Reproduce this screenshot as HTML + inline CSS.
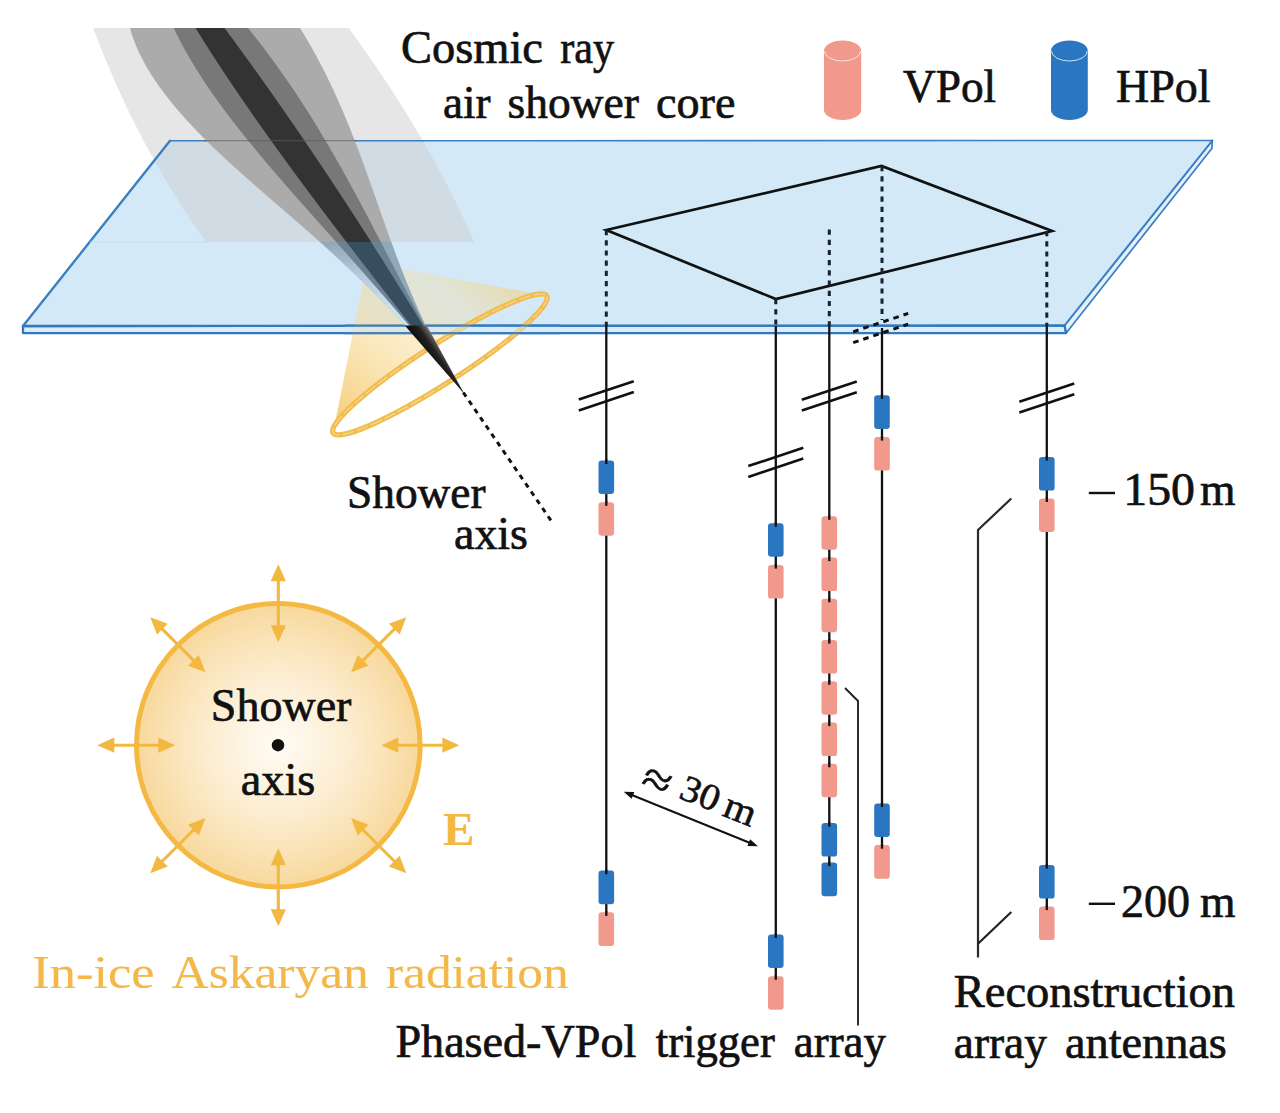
<!DOCTYPE html>
<html><head><meta charset="utf-8"><title>Diagram</title>
<style>
html,body{margin:0;padding:0;background:#fff;}
svg{display:block;}
text{font-family:"Liberation Serif",serif;}
</style></head><body>
<svg width="1280" height="1113" viewBox="0 0 1280 1113">
<defs>
<clipPath id="second"><path d="M130.0,28.0 L131.1,32.0 L132.4,36.0 L133.8,40.0 L135.4,44.0 L137.0,48.0 L138.8,52.0 L140.7,56.0 L142.8,60.0 L144.9,64.0 L147.2,68.0 L149.6,72.0 L152.1,76.0 L154.8,80.0 L157.5,84.0 L160.3,88.0 L163.3,92.0 L166.3,96.0 L169.5,100.0 L172.7,104.0 L176.0,108.0 L179.4,112.0 L183.0,116.0 L186.5,120.0 L190.2,124.0 L194.0,128.0 L197.8,132.0 L201.7,136.0 L205.7,140.0 L209.8,144.0 L213.9,148.0 L218.1,152.0 L222.4,156.0 L226.7,160.0 L231.0,164.0 L235.4,168.0 L239.9,172.0 L244.3,176.0 L248.9,180.0 L253.4,184.0 L258.0,188.0 L262.6,192.0 L267.2,196.0 L271.8,200.0 L276.4,204.0 L281.1,208.0 L285.7,212.0 L290.3,216.0 L294.9,220.0 L299.5,224.0 L304.1,228.0 L308.7,232.0 L313.2,236.0 L317.7,240.0 L322.2,244.0 L326.6,248.0 L331.0,252.0 L335.4,256.0 L339.7,260.0 L344.0,264.0 L348.3,268.0 L352.5,272.0 L356.7,276.0 L360.8,280.0 L365.0,284.0 L369.0,288.0 L373.1,292.0 L377.1,296.0 L381.1,300.0 L385.0,304.0 L388.9,308.0 L392.8,312.0 L396.6,316.0 L400.4,320.0 L404.2,324.0 L407.9,328.0 L411.6,332.0 L415.2,336.0 L418.9,340.0 L422.4,344.0 L426.0,348.0 L429.5,352.0 L433.0,356.0 L436.5,360.0 L439.9,364.0 L443.3,368.0 L446.6,372.0 L449.9,376.0 L453.2,380.0 L456.4,384.0 L459.7,388.0 L462.8,392.0 L463.8,393.2 L463.0,392.0 L460.4,388.0 L457.9,384.0 L455.4,380.0 L452.9,376.0 L450.5,372.0 L448.1,368.0 L445.8,364.0 L443.5,360.0 L441.3,356.0 L439.1,352.0 L437.0,348.0 L434.9,344.0 L432.8,340.0 L430.8,336.0 L428.8,332.0 L426.8,328.0 L424.9,324.0 L423.0,320.0 L421.2,316.0 L419.3,312.0 L417.5,308.0 L415.8,304.0 L414.0,300.0 L412.3,296.0 L410.6,292.0 L409.0,288.0 L407.3,284.0 L405.7,280.0 L404.1,276.0 L402.6,272.0 L401.0,268.0 L399.5,264.0 L397.9,260.0 L396.4,256.0 L394.9,252.0 L393.5,248.0 L392.0,244.0 L390.5,240.0 L389.1,236.0 L387.7,232.0 L386.2,228.0 L384.8,224.0 L383.4,220.0 L382.0,216.0 L380.6,212.0 L379.2,208.0 L377.8,204.0 L376.4,200.0 L375.0,196.0 L373.5,192.0 L372.1,188.0 L370.7,184.0 L369.3,180.0 L367.9,176.0 L366.4,172.0 L365.0,168.0 L363.5,164.0 L362.1,160.0 L360.6,156.0 L359.1,152.0 L357.6,148.0 L356.0,144.0 L354.5,140.0 L352.9,136.0 L351.4,132.0 L349.8,128.0 L348.2,124.0 L346.5,120.0 L344.8,116.0 L343.2,112.0 L341.4,108.0 L339.7,104.0 L337.9,100.0 L336.1,96.0 L334.3,92.0 L332.4,88.0 L330.5,84.0 L328.6,80.0 L326.7,76.0 L324.7,72.0 L322.6,68.0 L320.5,64.0 L318.4,60.0 L316.3,56.0 L314.1,52.0 L311.9,48.0 L309.6,44.0 L307.2,40.0 L304.9,36.0 L302.5,32.0 L300.0,28.0 Z"/></clipPath>
<radialGradient id="ask" cx="50%" cy="50%" r="50%">
<stop offset="0" stop-color="#fffcf6"/><stop offset="0.5" stop-color="#fcedd0"/><stop offset="0.85" stop-color="#f9dfad"/><stop offset="1" stop-color="#f8d89c"/>
</radialGradient>
<mask id="m2only" maskUnits="userSpaceOnUse" x="0" y="0" width="1280" height="1113"><path d="M130.0,28.0 L131.1,32.0 L132.4,36.0 L133.8,40.0 L135.4,44.0 L137.0,48.0 L138.8,52.0 L140.7,56.0 L142.8,60.0 L144.9,64.0 L147.2,68.0 L149.6,72.0 L152.1,76.0 L154.8,80.0 L157.5,84.0 L160.3,88.0 L163.3,92.0 L166.3,96.0 L169.5,100.0 L172.7,104.0 L176.0,108.0 L179.4,112.0 L183.0,116.0 L186.5,120.0 L190.2,124.0 L194.0,128.0 L197.8,132.0 L201.7,136.0 L205.7,140.0 L209.8,144.0 L213.9,148.0 L218.1,152.0 L222.4,156.0 L226.7,160.0 L231.0,164.0 L235.4,168.0 L239.9,172.0 L244.3,176.0 L248.9,180.0 L253.4,184.0 L258.0,188.0 L262.6,192.0 L267.2,196.0 L271.8,200.0 L276.4,204.0 L281.1,208.0 L285.7,212.0 L290.3,216.0 L294.9,220.0 L299.5,224.0 L304.1,228.0 L308.7,232.0 L313.2,236.0 L317.7,240.0 L322.2,244.0 L326.6,248.0 L331.0,252.0 L335.4,256.0 L339.7,260.0 L344.0,264.0 L348.3,268.0 L352.5,272.0 L356.7,276.0 L360.8,280.0 L365.0,284.0 L369.0,288.0 L373.1,292.0 L377.1,296.0 L381.1,300.0 L385.0,304.0 L388.9,308.0 L392.8,312.0 L396.6,316.0 L400.4,320.0 L404.2,324.0 L407.9,328.0 L411.6,332.0 L415.2,336.0 L418.9,340.0 L422.4,344.0 L426.0,348.0 L429.5,352.0 L433.0,356.0 L436.5,360.0 L439.9,364.0 L443.3,368.0 L446.6,372.0 L449.9,376.0 L453.2,380.0 L456.4,384.0 L459.7,388.0 L462.8,392.0 L463.8,393.2 L463.0,392.0 L460.4,388.0 L457.9,384.0 L455.4,380.0 L452.9,376.0 L450.5,372.0 L448.1,368.0 L445.8,364.0 L443.5,360.0 L441.3,356.0 L439.1,352.0 L437.0,348.0 L434.9,344.0 L432.8,340.0 L430.8,336.0 L428.8,332.0 L426.8,328.0 L424.9,324.0 L423.0,320.0 L421.2,316.0 L419.3,312.0 L417.5,308.0 L415.8,304.0 L414.0,300.0 L412.3,296.0 L410.6,292.0 L409.0,288.0 L407.3,284.0 L405.7,280.0 L404.1,276.0 L402.6,272.0 L401.0,268.0 L399.5,264.0 L397.9,260.0 L396.4,256.0 L394.9,252.0 L393.5,248.0 L392.0,244.0 L390.5,240.0 L389.1,236.0 L387.7,232.0 L386.2,228.0 L384.8,224.0 L383.4,220.0 L382.0,216.0 L380.6,212.0 L379.2,208.0 L377.8,204.0 L376.4,200.0 L375.0,196.0 L373.5,192.0 L372.1,188.0 L370.7,184.0 L369.3,180.0 L367.9,176.0 L366.4,172.0 L365.0,168.0 L363.5,164.0 L362.1,160.0 L360.6,156.0 L359.1,152.0 L357.6,148.0 L356.0,144.0 L354.5,140.0 L352.9,136.0 L351.4,132.0 L349.8,128.0 L348.2,124.0 L346.5,120.0 L344.8,116.0 L343.2,112.0 L341.4,108.0 L339.7,104.0 L337.9,100.0 L336.1,96.0 L334.3,92.0 L332.4,88.0 L330.5,84.0 L328.6,80.0 L326.7,76.0 L324.7,72.0 L322.6,68.0 L320.5,64.0 L318.4,60.0 L316.3,56.0 L314.1,52.0 L311.9,48.0 L309.6,44.0 L307.2,40.0 L304.9,36.0 L302.5,32.0 L300.0,28.0 Z" fill="#fff"/><path d="M173.7,28.0 L175.6,32.0 L177.6,36.0 L179.6,40.0 L181.7,44.0 L183.9,48.0 L186.1,52.0 L188.4,56.0 L190.7,60.0 L193.1,64.0 L195.6,68.0 L198.1,72.0 L200.6,76.0 L203.2,80.0 L205.9,84.0 L208.6,88.0 L211.3,92.0 L214.1,96.0 L217.0,100.0 L219.9,104.0 L222.8,108.0 L225.8,112.0 L228.8,116.0 L231.8,120.0 L234.9,124.0 L238.1,128.0 L241.2,132.0 L244.4,136.0 L247.6,140.0 L250.9,144.0 L254.2,148.0 L257.5,152.0 L260.8,156.0 L264.1,160.0 L267.5,164.0 L270.9,168.0 L274.4,172.0 L277.8,176.0 L281.3,180.0 L284.7,184.0 L288.2,188.0 L291.7,192.0 L295.2,196.0 L298.8,200.0 L302.3,204.0 L305.9,208.0 L309.4,212.0 L313.0,216.0 L316.5,220.0 L320.1,224.0 L323.7,228.0 L327.2,232.0 L330.8,236.0 L334.4,240.0 L337.9,244.0 L341.5,248.0 L345.1,252.0 L348.6,256.0 L352.1,260.0 L355.7,264.0 L359.2,268.0 L362.7,272.0 L366.2,276.0 L369.7,280.0 L373.2,284.0 L376.7,288.0 L380.2,292.0 L383.7,296.0 L387.1,300.0 L390.6,304.0 L394.0,308.0 L397.5,312.0 L400.9,316.0 L404.3,320.0 L407.7,324.0 L411.0,328.0 L414.4,332.0 L417.7,336.0 L421.1,340.0 L424.4,344.0 L427.7,348.0 L431.0,352.0 L434.2,356.0 L437.5,360.0 L440.7,364.0 L443.9,368.0 L447.1,372.0 L450.3,376.0 L453.5,380.0 L456.6,384.0 L459.8,388.0 L462.9,392.0 L463.8,393.2 L463.1,392.0 L460.6,388.0 L458.2,384.0 L455.7,380.0 L453.3,376.0 L451.0,372.0 L448.6,368.0 L446.3,364.0 L443.9,360.0 L441.6,356.0 L439.4,352.0 L437.1,348.0 L434.9,344.0 L432.6,340.0 L430.4,336.0 L428.2,332.0 L426.0,328.0 L423.8,324.0 L421.7,320.0 L419.5,316.0 L417.4,312.0 L415.2,308.0 L413.1,304.0 L411.0,300.0 L408.9,296.0 L406.8,292.0 L404.7,288.0 L402.6,284.0 L400.5,280.0 L398.4,276.0 L396.4,272.0 L394.3,268.0 L392.2,264.0 L390.1,260.0 L388.1,256.0 L386.0,252.0 L383.9,248.0 L381.9,244.0 L379.8,240.0 L377.7,236.0 L375.6,232.0 L373.5,228.0 L371.5,224.0 L369.4,220.0 L367.3,216.0 L365.1,212.0 L363.0,208.0 L360.9,204.0 L358.8,200.0 L356.6,196.0 L354.5,192.0 L352.3,188.0 L350.1,184.0 L347.9,180.0 L345.7,176.0 L343.5,172.0 L341.3,168.0 L339.0,164.0 L336.7,160.0 L334.5,156.0 L332.1,152.0 L329.8,148.0 L327.5,144.0 L325.1,140.0 L322.7,136.0 L320.3,132.0 L317.9,128.0 L315.5,124.0 L313.0,120.0 L310.5,116.0 L308.0,112.0 L305.4,108.0 L302.9,104.0 L300.3,100.0 L297.6,96.0 L295.0,92.0 L292.3,88.0 L289.6,84.0 L286.8,80.0 L284.0,76.0 L281.2,72.0 L278.4,68.0 L275.5,64.0 L272.6,60.0 L269.7,56.0 L266.7,52.0 L263.7,48.0 L260.6,44.0 L257.5,40.0 L254.4,36.0 L251.2,32.0 L248.0,28.0 Z" fill="#000"/></mask>
<linearGradient id="fade" gradientUnits="userSpaceOnUse" x1="0" y1="242" x2="0" y2="312">
<stop offset="0" stop-color="#d4e9f8" stop-opacity="0"/><stop offset="0.5" stop-color="#d4e9f8" stop-opacity="0.55"/><stop offset="1" stop-color="#d4e9f8" stop-opacity="0.9"/>
</linearGradient>
<linearGradient id="tipg" gradientUnits="userSpaceOnUse" x1="421" y1="347" x2="436" y2="336.5">
<stop offset="0" stop-color="#0e0e0e"/><stop offset="0.5" stop-color="#222"/><stop offset="0.8" stop-color="#5a5a5a"/><stop offset="1" stop-color="#a0a0a0"/>
</linearGradient>
<linearGradient id="cone" gradientUnits="userSpaceOnUse" x1="331" y1="433" x2="480" y2="250">
<stop offset="0" stop-color="#f5c767" stop-opacity="0.95"/><stop offset="0.45" stop-color="#f8d993" stop-opacity="0.55"/><stop offset="0.75" stop-color="#f6dca0" stop-opacity="0.35"/><stop offset="1" stop-color="#f0cf7a" stop-opacity="0.6"/>
</linearGradient>
</defs>
<rect width="1280" height="1113" fill="#fff"/>
<!-- ice -->
<polygon points="1212.3,140.5 1212,148.2 1066,333.2 1064.5,325.5" fill="#e4f0fa" stroke="#3a7fc1" stroke-width="1.7" stroke-linejoin="round"/>
<polygon points="23,326 1064.5,325.5 1066,333.2 23,333.2" fill="#dcedfa" stroke="#3278bc" stroke-width="2.3" stroke-linejoin="round"/>
<polygon points="170,140.8 1212.3,140.5 1064.5,325.5 23,326" fill="#d4e9f8"/>
<path d="M93,28 Q137.9,147.5 206.25,242 L474,242 Q430.6,140.0 348.75,28 Z" fill="#cdcdcd" fill-opacity="0.5"/>
<polyline points="23,326 170,140.8" fill="none" stroke="#3a7fc1" stroke-width="2.4" stroke-linecap="round"/>
<polyline points="170,140.8 1212.3,140.5" fill="none" stroke="#3a7fc1" stroke-width="1.6" stroke-linecap="round"/>
<polyline points="1212.3,140.5 1064.5,325.5" fill="none" stroke="#3a7fc1" stroke-width="2" stroke-linecap="round"/>
<polyline points="1064.5,325.5 23,326" fill="none" stroke="#3278bc" stroke-width="2.4" stroke-linecap="round"/>
<line x1="90" y1="242" x2="208" y2="242" stroke="#c6dcee" stroke-width="1"/>
<!-- cone -->
<g>
<path d="M367,262 L546.7,295.8 A126.9,19.5 -32.7 0 0 333.1,433.0 Z" fill="url(#cone)"/>
<g transform="translate(439.9,364.4) rotate(-32.7)">
<ellipse cx="0" cy="0" rx="126.9" ry="19.5" fill="none" stroke="#f2bd50" stroke-width="5.4"/>
<ellipse cx="0" cy="0" rx="126.9" ry="19.5" fill="none" stroke="#f9dc97" stroke-width="1" stroke-dasharray="12 3"/>
</g>
<polygon points="345,326 560,326 560,333.2 345,333.2" fill="#d4e9f8" opacity="0.45"/>
<line x1="345" y1="325.7" x2="560" y2="325.6" stroke="#3278bc" stroke-width="2.3" opacity="0.85"/>
<line x1="345" y1="333.2" x2="560" y2="333.2" stroke="#3278bc" stroke-width="2.3" opacity="0.85"/>
</g>
<!-- shower -->
<path d="M130.0,28.0 L131.1,32.0 L132.4,36.0 L133.8,40.0 L135.4,44.0 L137.0,48.0 L138.8,52.0 L140.7,56.0 L142.8,60.0 L144.9,64.0 L147.2,68.0 L149.6,72.0 L152.1,76.0 L154.8,80.0 L157.5,84.0 L160.3,88.0 L163.3,92.0 L166.3,96.0 L169.5,100.0 L172.7,104.0 L176.0,108.0 L179.4,112.0 L183.0,116.0 L186.5,120.0 L190.2,124.0 L194.0,128.0 L197.8,132.0 L201.7,136.0 L205.7,140.0 L209.8,144.0 L213.9,148.0 L218.1,152.0 L222.4,156.0 L226.7,160.0 L231.0,164.0 L235.4,168.0 L239.9,172.0 L244.3,176.0 L248.9,180.0 L253.4,184.0 L258.0,188.0 L262.6,192.0 L267.2,196.0 L271.8,200.0 L276.4,204.0 L281.1,208.0 L285.7,212.0 L290.3,216.0 L294.9,220.0 L299.5,224.0 L304.1,228.0 L308.7,232.0 L313.2,236.0 L317.7,240.0 L322.2,244.0 L326.6,248.0 L331.0,252.0 L335.4,256.0 L339.7,260.0 L344.0,264.0 L348.3,268.0 L352.5,272.0 L356.7,276.0 L360.8,280.0 L365.0,284.0 L369.0,288.0 L373.1,292.0 L377.1,296.0 L381.1,300.0 L385.0,304.0 L388.9,308.0 L392.8,312.0 L396.6,316.0 L400.4,320.0 L404.2,324.0 L407.9,328.0 L411.6,332.0 L415.2,336.0 L418.9,340.0 L422.4,344.0 L426.0,348.0 L429.5,352.0 L433.0,356.0 L436.5,360.0 L439.9,364.0 L443.3,368.0 L446.6,372.0 L449.9,376.0 L453.2,380.0 L456.4,384.0 L459.7,388.0 L462.8,392.0 L463.8,393.2 L463.0,392.0 L460.4,388.0 L457.9,384.0 L455.4,380.0 L452.9,376.0 L450.5,372.0 L448.1,368.0 L445.8,364.0 L443.5,360.0 L441.3,356.0 L439.1,352.0 L437.0,348.0 L434.9,344.0 L432.8,340.0 L430.8,336.0 L428.8,332.0 L426.8,328.0 L424.9,324.0 L423.0,320.0 L421.2,316.0 L419.3,312.0 L417.5,308.0 L415.8,304.0 L414.0,300.0 L412.3,296.0 L410.6,292.0 L409.0,288.0 L407.3,284.0 L405.7,280.0 L404.1,276.0 L402.6,272.0 L401.0,268.0 L399.5,264.0 L397.9,260.0 L396.4,256.0 L394.9,252.0 L393.5,248.0 L392.0,244.0 L390.5,240.0 L389.1,236.0 L387.7,232.0 L386.2,228.0 L384.8,224.0 L383.4,220.0 L382.0,216.0 L380.6,212.0 L379.2,208.0 L377.8,204.0 L376.4,200.0 L375.0,196.0 L373.5,192.0 L372.1,188.0 L370.7,184.0 L369.3,180.0 L367.9,176.0 L366.4,172.0 L365.0,168.0 L363.5,164.0 L362.1,160.0 L360.6,156.0 L359.1,152.0 L357.6,148.0 L356.0,144.0 L354.5,140.0 L352.9,136.0 L351.4,132.0 L349.8,128.0 L348.2,124.0 L346.5,120.0 L344.8,116.0 L343.2,112.0 L341.4,108.0 L339.7,104.0 L337.9,100.0 L336.1,96.0 L334.3,92.0 L332.4,88.0 L330.5,84.0 L328.6,80.0 L326.7,76.0 L324.7,72.0 L322.6,68.0 L320.5,64.0 L318.4,60.0 L316.3,56.0 L314.1,52.0 L311.9,48.0 L309.6,44.0 L307.2,40.0 L304.9,36.0 L302.5,32.0 L300.0,28.0 Z" fill="#ababab"/>
<path d="M173.7,28.0 L175.6,32.0 L177.6,36.0 L179.6,40.0 L181.7,44.0 L183.9,48.0 L186.1,52.0 L188.4,56.0 L190.7,60.0 L193.1,64.0 L195.6,68.0 L198.1,72.0 L200.6,76.0 L203.2,80.0 L205.9,84.0 L208.6,88.0 L211.3,92.0 L214.1,96.0 L217.0,100.0 L219.9,104.0 L222.8,108.0 L225.8,112.0 L228.8,116.0 L231.8,120.0 L234.9,124.0 L238.1,128.0 L241.2,132.0 L244.4,136.0 L247.6,140.0 L250.9,144.0 L254.2,148.0 L257.5,152.0 L260.8,156.0 L264.1,160.0 L267.5,164.0 L270.9,168.0 L274.4,172.0 L277.8,176.0 L281.3,180.0 L284.7,184.0 L288.2,188.0 L291.7,192.0 L295.2,196.0 L298.8,200.0 L302.3,204.0 L305.9,208.0 L309.4,212.0 L313.0,216.0 L316.5,220.0 L320.1,224.0 L323.7,228.0 L327.2,232.0 L330.8,236.0 L334.4,240.0 L337.9,244.0 L341.5,248.0 L345.1,252.0 L348.6,256.0 L352.1,260.0 L355.7,264.0 L359.2,268.0 L362.7,272.0 L366.2,276.0 L369.7,280.0 L373.2,284.0 L376.7,288.0 L380.2,292.0 L383.7,296.0 L387.1,300.0 L390.6,304.0 L394.0,308.0 L397.5,312.0 L400.9,316.0 L404.3,320.0 L407.7,324.0 L411.0,328.0 L414.4,332.0 L417.7,336.0 L421.1,340.0 L424.4,344.0 L427.7,348.0 L431.0,352.0 L434.2,356.0 L437.5,360.0 L440.7,364.0 L443.9,368.0 L447.1,372.0 L450.3,376.0 L453.5,380.0 L456.6,384.0 L459.8,388.0 L462.9,392.0 L463.8,393.2 L463.1,392.0 L460.6,388.0 L458.2,384.0 L455.7,380.0 L453.3,376.0 L451.0,372.0 L448.6,368.0 L446.3,364.0 L443.9,360.0 L441.6,356.0 L439.4,352.0 L437.1,348.0 L434.9,344.0 L432.6,340.0 L430.4,336.0 L428.2,332.0 L426.0,328.0 L423.8,324.0 L421.7,320.0 L419.5,316.0 L417.4,312.0 L415.2,308.0 L413.1,304.0 L411.0,300.0 L408.9,296.0 L406.8,292.0 L404.7,288.0 L402.6,284.0 L400.5,280.0 L398.4,276.0 L396.4,272.0 L394.3,268.0 L392.2,264.0 L390.1,260.0 L388.1,256.0 L386.0,252.0 L383.9,248.0 L381.9,244.0 L379.8,240.0 L377.7,236.0 L375.6,232.0 L373.5,228.0 L371.5,224.0 L369.4,220.0 L367.3,216.0 L365.1,212.0 L363.0,208.0 L360.9,204.0 L358.8,200.0 L356.6,196.0 L354.5,192.0 L352.3,188.0 L350.1,184.0 L347.9,180.0 L345.7,176.0 L343.5,172.0 L341.3,168.0 L339.0,164.0 L336.7,160.0 L334.5,156.0 L332.1,152.0 L329.8,148.0 L327.5,144.0 L325.1,140.0 L322.7,136.0 L320.3,132.0 L317.9,128.0 L315.5,124.0 L313.0,120.0 L310.5,116.0 L308.0,112.0 L305.4,108.0 L302.9,104.0 L300.3,100.0 L297.6,96.0 L295.0,92.0 L292.3,88.0 L289.6,84.0 L286.8,80.0 L284.0,76.0 L281.2,72.0 L278.4,68.0 L275.5,64.0 L272.6,60.0 L269.7,56.0 L266.7,52.0 L263.7,48.0 L260.6,44.0 L257.5,40.0 L254.4,36.0 L251.2,32.0 L248.0,28.0 Z" fill="#787878"/>
<path d="M195.5,28.0 L198.0,32.0 L200.5,36.0 L203.0,40.0 L205.5,44.0 L208.1,48.0 L210.6,52.0 L213.2,56.0 L215.8,60.0 L218.4,64.0 L221.1,68.0 L223.7,72.0 L226.3,76.0 L229.0,80.0 L231.7,84.0 L234.4,88.0 L237.1,92.0 L239.8,96.0 L242.6,100.0 L245.3,104.0 L248.1,108.0 L250.9,112.0 L253.6,116.0 L256.4,120.0 L259.3,124.0 L262.1,128.0 L264.9,132.0 L267.8,136.0 L270.6,140.0 L273.5,144.0 L276.4,148.0 L279.3,152.0 L282.2,156.0 L285.1,160.0 L288.0,164.0 L290.9,168.0 L293.8,172.0 L296.8,176.0 L299.7,180.0 L302.7,184.0 L305.7,188.0 L308.6,192.0 L311.6,196.0 L314.6,200.0 L317.6,204.0 L320.6,208.0 L323.6,212.0 L326.7,216.0 L329.7,220.0 L332.7,224.0 L335.8,228.0 L338.8,232.0 L341.9,236.0 L344.9,240.0 L348.0,244.0 L351.1,248.0 L354.1,252.0 L357.2,256.0 L360.3,260.0 L363.4,264.0 L366.5,268.0 L369.6,272.0 L372.6,276.0 L375.7,280.0 L378.8,284.0 L381.9,288.0 L385.1,292.0 L388.2,296.0 L391.3,300.0 L394.4,304.0 L397.5,308.0 L400.6,312.0 L403.7,316.0 L406.8,320.0 L410.0,324.0 L413.1,328.0 L416.2,332.0 L419.3,336.0 L422.4,340.0 L425.6,344.0 L428.7,348.0 L431.8,352.0 L434.9,356.0 L438.0,360.0 L441.1,364.0 L444.2,368.0 L447.4,372.0 L450.5,376.0 L453.6,380.0 L456.7,384.0 L459.8,388.0 L462.9,392.0 L463.8,393.2 L463.1,392.0 L460.7,388.0 L458.3,384.0 L455.9,380.0 L453.6,376.0 L451.2,372.0 L448.8,368.0 L446.4,364.0 L444.0,360.0 L441.6,356.0 L439.2,352.0 L436.7,348.0 L434.3,344.0 L431.9,340.0 L429.5,336.0 L427.1,332.0 L424.6,328.0 L422.2,324.0 L419.7,320.0 L417.3,316.0 L414.8,312.0 L412.4,308.0 L409.9,304.0 L407.4,300.0 L405.0,296.0 L402.5,292.0 L400.0,288.0 L397.5,284.0 L395.0,280.0 L392.5,276.0 L390.0,272.0 L387.5,268.0 L385.0,264.0 L382.5,260.0 L380.0,256.0 L377.4,252.0 L374.9,248.0 L372.4,244.0 L369.8,240.0 L367.3,236.0 L364.7,232.0 L362.1,228.0 L359.6,224.0 L357.0,220.0 L354.4,216.0 L351.8,212.0 L349.2,208.0 L346.6,204.0 L344.0,200.0 L341.4,196.0 L338.8,192.0 L336.1,188.0 L333.5,184.0 L330.9,180.0 L328.2,176.0 L325.5,172.0 L322.9,168.0 L320.2,164.0 L317.5,160.0 L314.8,156.0 L312.1,152.0 L309.4,148.0 L306.7,144.0 L304.0,140.0 L301.3,136.0 L298.5,132.0 L295.8,128.0 L293.1,124.0 L290.3,120.0 L287.5,116.0 L284.8,112.0 L282.0,108.0 L279.2,104.0 L276.4,100.0 L273.6,96.0 L270.8,92.0 L267.9,88.0 L265.1,84.0 L262.3,80.0 L259.4,76.0 L256.6,72.0 L253.7,68.0 L250.8,64.0 L247.9,60.0 L245.0,56.0 L242.1,52.0 L239.2,48.0 L236.3,44.0 L233.4,40.0 L230.4,36.0 L227.5,32.0 L224.5,28.0 Z" fill="#333"/>
<line x1="204" y1="140.7" x2="357" y2="140.7" stroke="#5c5c5c" stroke-width="1" opacity="0.75"/>
<rect x="300" y="242" width="170" height="84" fill="rgb(68,159,225)" fill-opacity="0.25" clip-path="url(#second)"/>
<polygon points="300,242 358,242 417,326 300,326" fill="url(#fade)" mask="url(#m2only)"/>
<path d="M404.8,325.5 L464,393.5 L426.8,325.5 Z" fill="url(#tipg)"/>
<line x1="463.3" y1="392.5" x2="552" y2="522" stroke="#111" stroke-width="3" stroke-dasharray="5 5"/>
<!-- array rectangle -->
<polygon points="606.3,230 881.5,166 1052,231 775.8,299" fill="none" stroke="#111" stroke-width="2.7" stroke-linejoin="miter"/>
<!-- strings -->
<line x1="606.3" y1="230.0" x2="606.3" y2="326.0" stroke="#152230" stroke-width="3" stroke-dasharray="5.2 5"/><line x1="606.3" y1="326.0" x2="606.3" y2="915.0" stroke="#111" stroke-width="2.3"/><line x1="578.8" y1="399.6" x2="633.8" y2="381.2" stroke="#111" stroke-width="2.6"/><line x1="578.8" y1="410.4" x2="633.8" y2="392.0" stroke="#111" stroke-width="2.6"/><rect x="598.5" y="460.4" width="15.6" height="33.6" rx="3.2" ry="3.2" fill="#2b76c0"/><line x1="606.3" y1="459.4" x2="606.3" y2="464.0" stroke="#111" stroke-width="2.3"/><rect x="598.5" y="502.2" width="15.6" height="33.6" rx="3.2" ry="3.2" fill="#f2998d"/><line x1="606.3" y1="501.2" x2="606.3" y2="505.8" stroke="#111" stroke-width="2.3"/><rect x="598.5" y="870.6" width="15.6" height="33.6" rx="3.2" ry="3.2" fill="#2b76c0"/><line x1="606.3" y1="869.6" x2="606.3" y2="874.2" stroke="#111" stroke-width="2.3"/><rect x="598.5" y="912.3" width="15.6" height="33.6" rx="3.2" ry="3.2" fill="#f2998d"/><line x1="606.3" y1="911.3" x2="606.3" y2="915.9" stroke="#111" stroke-width="2.3"/><line x1="775.8" y1="299.0" x2="775.8" y2="326.0" stroke="#152230" stroke-width="3" stroke-dasharray="5.2 5"/><line x1="775.8" y1="326.0" x2="775.8" y2="980.0" stroke="#111" stroke-width="2.3"/><line x1="748.3" y1="466.1" x2="803.3" y2="447.7" stroke="#111" stroke-width="2.6"/><line x1="748.3" y1="476.9" x2="803.3" y2="458.5" stroke="#111" stroke-width="2.6"/><rect x="768.0" y="523.2" width="15.6" height="33.6" rx="3.2" ry="3.2" fill="#2b76c0"/><line x1="775.8" y1="522.2" x2="775.8" y2="526.8" stroke="#111" stroke-width="2.3"/><rect x="768.0" y="565.0" width="15.6" height="33.6" rx="3.2" ry="3.2" fill="#f2998d"/><line x1="775.8" y1="564.0" x2="775.8" y2="568.6" stroke="#111" stroke-width="2.3"/><rect x="768.0" y="934.4" width="15.6" height="33.6" rx="3.2" ry="3.2" fill="#2b76c0"/><line x1="775.8" y1="933.4" x2="775.8" y2="938.0" stroke="#111" stroke-width="2.3"/><rect x="768.0" y="976.2" width="15.6" height="33.6" rx="3.2" ry="3.2" fill="#f2998d"/><line x1="775.8" y1="975.2" x2="775.8" y2="979.8" stroke="#111" stroke-width="2.3"/><line x1="829.3" y1="229.5" x2="829.3" y2="326.0" stroke="#152230" stroke-width="3" stroke-dasharray="5.2 5"/><line x1="829.3" y1="326.0" x2="829.3" y2="870.0" stroke="#111" stroke-width="2.3"/><line x1="801.8" y1="399.8" x2="856.8" y2="381.4" stroke="#111" stroke-width="2.6"/><line x1="801.8" y1="410.6" x2="856.8" y2="392.2" stroke="#111" stroke-width="2.6"/><rect x="821.5" y="516.2" width="15.6" height="33.6" rx="3.2" ry="3.2" fill="#f2998d"/><line x1="829.3" y1="515.2" x2="829.3" y2="519.8" stroke="#111" stroke-width="2.3"/><rect x="821.5" y="557.5" width="15.6" height="33.6" rx="3.2" ry="3.2" fill="#f2998d"/><line x1="829.3" y1="556.5" x2="829.3" y2="561.1" stroke="#111" stroke-width="2.3"/><rect x="821.5" y="598.7" width="15.6" height="33.6" rx="3.2" ry="3.2" fill="#f2998d"/><line x1="829.3" y1="597.7" x2="829.3" y2="602.3" stroke="#111" stroke-width="2.3"/><rect x="821.5" y="640.0" width="15.6" height="33.6" rx="3.2" ry="3.2" fill="#f2998d"/><line x1="829.3" y1="639.0" x2="829.3" y2="643.6" stroke="#111" stroke-width="2.3"/><rect x="821.5" y="681.2" width="15.6" height="33.6" rx="3.2" ry="3.2" fill="#f2998d"/><line x1="829.3" y1="680.2" x2="829.3" y2="684.8" stroke="#111" stroke-width="2.3"/><rect x="821.5" y="722.5" width="15.6" height="33.6" rx="3.2" ry="3.2" fill="#f2998d"/><line x1="829.3" y1="721.5" x2="829.3" y2="726.1" stroke="#111" stroke-width="2.3"/><rect x="821.5" y="763.7" width="15.6" height="33.6" rx="3.2" ry="3.2" fill="#f2998d"/><line x1="829.3" y1="762.7" x2="829.3" y2="767.3" stroke="#111" stroke-width="2.3"/><rect x="821.5" y="823.0" width="15.6" height="33.6" rx="3.2" ry="3.2" fill="#2b76c0"/><line x1="829.3" y1="822.0" x2="829.3" y2="826.6" stroke="#111" stroke-width="2.3"/><rect x="821.5" y="862.6" width="15.6" height="33.6" rx="3.2" ry="3.2" fill="#2b76c0"/><line x1="829.3" y1="861.6" x2="829.3" y2="866.2" stroke="#111" stroke-width="2.3"/><line x1="882.0" y1="166.0" x2="882.0" y2="320.0" stroke="#152230" stroke-width="3" stroke-dasharray="5.2 5"/><line x1="882.0" y1="328.0" x2="882.0" y2="850.0" stroke="#111" stroke-width="2.3"/><line x1="853.2" y1="331.8" x2="908.2" y2="313.4" stroke="#111" stroke-width="3" stroke-dasharray="5.6 5"/><line x1="853.2" y1="342.6" x2="908.2" y2="324.2" stroke="#111" stroke-width="3" stroke-dasharray="5.6 5"/><rect x="874.2" y="395.3" width="15.6" height="33.6" rx="3.2" ry="3.2" fill="#2b76c0"/><line x1="882.0" y1="394.3" x2="882.0" y2="398.9" stroke="#111" stroke-width="2.3"/><rect x="874.2" y="437.0" width="15.6" height="33.6" rx="3.2" ry="3.2" fill="#f2998d"/><line x1="882.0" y1="436.0" x2="882.0" y2="440.6" stroke="#111" stroke-width="2.3"/><rect x="874.2" y="803.4" width="15.6" height="33.6" rx="3.2" ry="3.2" fill="#2b76c0"/><line x1="882.0" y1="802.4" x2="882.0" y2="807.0" stroke="#111" stroke-width="2.3"/><rect x="874.2" y="845.1" width="15.6" height="33.6" rx="3.2" ry="3.2" fill="#f2998d"/><line x1="882.0" y1="844.1" x2="882.0" y2="848.7" stroke="#111" stroke-width="2.3"/><line x1="1046.8" y1="231.0" x2="1046.8" y2="326.0" stroke="#152230" stroke-width="3" stroke-dasharray="5.2 5"/><line x1="1046.8" y1="326.0" x2="1046.8" y2="910.0" stroke="#111" stroke-width="2.3"/><line x1="1019.3" y1="401.8" x2="1074.3" y2="383.4" stroke="#111" stroke-width="2.6"/><line x1="1019.3" y1="412.6" x2="1074.3" y2="394.2" stroke="#111" stroke-width="2.6"/><rect x="1039.0" y="457.0" width="15.6" height="33.6" rx="3.2" ry="3.2" fill="#2b76c0"/><line x1="1046.8" y1="456.0" x2="1046.8" y2="460.6" stroke="#111" stroke-width="2.3"/><rect x="1039.0" y="498.4" width="15.6" height="33.6" rx="3.2" ry="3.2" fill="#f2998d"/><line x1="1046.8" y1="497.4" x2="1046.8" y2="502.0" stroke="#111" stroke-width="2.3"/><rect x="1039.0" y="865.0" width="15.6" height="33.6" rx="3.2" ry="3.2" fill="#2b76c0"/><line x1="1046.8" y1="864.0" x2="1046.8" y2="868.6" stroke="#111" stroke-width="2.3"/><rect x="1039.0" y="906.5" width="15.6" height="33.6" rx="3.2" ry="3.2" fill="#f2998d"/><line x1="1046.8" y1="905.5" x2="1046.8" y2="910.1" stroke="#111" stroke-width="2.3"/>
<!-- leaders -->
<polyline points="845,688 858,701 858,1025.5" fill="none" stroke="#222" stroke-width="1.9"/>
<polyline points="1011.3,498.5 978,530 978,957.5" fill="none" stroke="#2a2a2a" stroke-width="2.2"/>
<line x1="978" y1="943.7" x2="1011.3" y2="912" stroke="#222" stroke-width="2.2"/>
<!-- legend -->
<g>
<path d="M824,51 L824,110 A18.6,10 0 0 0 861.2,110 L861.2,51 A18.6,10.5 0 0 0 824,51 Z" fill="#f2998d"/>
<path d="M824.5,51 A18.1,10 0 0 0 860.7,51" fill="none" stroke="#fbe3df" stroke-width="1"/>
<path d="M1051,51 L1051,110 A18.4,10 0 0 0 1087.8,110 L1087.8,51 A18.4,10.5 0 0 0 1051,51 Z" fill="#2b76c0"/>
<path d="M1051.5,51 A17.9,10 0 0 0 1087.3,51" fill="none" stroke="#cfe0f2" stroke-width="1"/>
</g>
<!-- Askaryan -->
<circle cx="278.3" cy="745.2" r="141.8" fill="url(#ask)" stroke="#f3b943" stroke-width="5"/>
<g transform="translate(278.3,745.2) rotate(0)"><line x1="116" y1="0" x2="168" y2="0" stroke="#f3b840" stroke-width="3.1"/><path d="M103,0 L120,-7.6 L120,7.6 Z M181,0 L164,-7.6 L164,7.6 Z" fill="#f3b840"/></g><g transform="translate(278.3,745.2) rotate(45)"><line x1="116" y1="0" x2="168" y2="0" stroke="#f3b840" stroke-width="3.1"/><path d="M103,0 L120,-7.6 L120,7.6 Z M181,0 L164,-7.6 L164,7.6 Z" fill="#f3b840"/></g><g transform="translate(278.3,745.2) rotate(90)"><line x1="116" y1="0" x2="168" y2="0" stroke="#f3b840" stroke-width="3.1"/><path d="M103,0 L120,-7.6 L120,7.6 Z M181,0 L164,-7.6 L164,7.6 Z" fill="#f3b840"/></g><g transform="translate(278.3,745.2) rotate(135)"><line x1="116" y1="0" x2="168" y2="0" stroke="#f3b840" stroke-width="3.1"/><path d="M103,0 L120,-7.6 L120,7.6 Z M181,0 L164,-7.6 L164,7.6 Z" fill="#f3b840"/></g><g transform="translate(278.3,745.2) rotate(180)"><line x1="116" y1="0" x2="168" y2="0" stroke="#f3b840" stroke-width="3.1"/><path d="M103,0 L120,-7.6 L120,7.6 Z M181,0 L164,-7.6 L164,7.6 Z" fill="#f3b840"/></g><g transform="translate(278.3,745.2) rotate(225)"><line x1="116" y1="0" x2="168" y2="0" stroke="#f3b840" stroke-width="3.1"/><path d="M103,0 L120,-7.6 L120,7.6 Z M181,0 L164,-7.6 L164,7.6 Z" fill="#f3b840"/></g><g transform="translate(278.3,745.2) rotate(270)"><line x1="116" y1="0" x2="168" y2="0" stroke="#f3b840" stroke-width="3.1"/><path d="M103,0 L120,-7.6 L120,7.6 Z M181,0 L164,-7.6 L164,7.6 Z" fill="#f3b840"/></g><g transform="translate(278.3,745.2) rotate(315)"><line x1="116" y1="0" x2="168" y2="0" stroke="#f3b840" stroke-width="3.1"/><path d="M103,0 L120,-7.6 L120,7.6 Z M181,0 L164,-7.6 L164,7.6 Z" fill="#f3b840"/></g>
<circle cx="278" cy="745.2" r="6.2" fill="#111"/>
<!-- 30 m arrow -->
<line x1="630" y1="794.3" x2="752" y2="843.8" stroke="#111" stroke-width="2"/>
<path d="M623.7,791.7 L631.6,798.8 L634.3,792.1 Z M758.0,846.3 L747.4,845.9 L750.1,839.2 Z" fill="#111"/>
<g transform="translate(682.8,800.2) rotate(21.5)" stroke="#111" stroke-width="0.6"><text x="-45.5" y="5.8" font-size="46" fill="#111" textLength="29" lengthAdjust="spacingAndGlyphs">≈</text><text x="-6" y="-0.5" font-size="37" fill="#111" textLength="40" lengthAdjust="spacingAndGlyphs">30</text><text x="41" y="0" font-size="38.5" fill="#111" textLength="32" lengthAdjust="spacingAndGlyphs">m</text></g>
<!-- minus signs -->
<line x1="1088.8" y1="493" x2="1115" y2="493" stroke="#111" stroke-width="2.4"/>
<line x1="1088.8" y1="903.8" x2="1115" y2="903.8" stroke="#111" stroke-width="2.4"/>
<text x="401.0" y="63.0" font-size="46" fill="#111" stroke="#111" stroke-width="0.7" textLength="142.0" lengthAdjust="spacingAndGlyphs">Cosmic</text><text x="560.2" y="63.0" font-size="46" fill="#111" stroke="#111" stroke-width="0.7" textLength="53.8" lengthAdjust="spacingAndGlyphs">ray</text><text x="443.0" y="118.0" font-size="46" fill="#111" stroke="#111" stroke-width="0.7" textLength="47.5" lengthAdjust="spacingAndGlyphs">air</text><text x="507.5" y="118.0" font-size="46" fill="#111" stroke="#111" stroke-width="0.7" textLength="131.3" lengthAdjust="spacingAndGlyphs">shower</text><text x="656.0" y="118.0" font-size="46" fill="#111" stroke="#111" stroke-width="0.7" textLength="79.4" lengthAdjust="spacingAndGlyphs">core</text><text x="903.0" y="101.8" font-size="46" fill="#111" stroke="#111" stroke-width="0.7" textLength="93.2" lengthAdjust="spacingAndGlyphs">VPol</text><text x="1116.0" y="101.8" font-size="46" fill="#111" stroke="#111" stroke-width="0.7" textLength="94.6" lengthAdjust="spacingAndGlyphs">HPol</text><text x="347.0" y="508.0" font-size="46" fill="#111" stroke="#111" stroke-width="0.7" textLength="138.6" lengthAdjust="spacingAndGlyphs">Shower</text><text x="454.0" y="548.8" font-size="46" fill="#111" stroke="#111" stroke-width="0.7" textLength="74.0" lengthAdjust="spacingAndGlyphs">axis</text><text x="210.8" y="720.6" font-size="46" fill="#111" stroke="#111" stroke-width="0.7" textLength="140.6" lengthAdjust="spacingAndGlyphs">Shower</text><text x="240.8" y="795.4" font-size="46" fill="#111" stroke="#111" stroke-width="0.7" textLength="74.4" lengthAdjust="spacingAndGlyphs">axis</text><text x="443.2" y="845.3" font-size="46" fill="#f3b840" stroke="#f3b840" stroke-width="0.15" textLength="31.2" lengthAdjust="spacingAndGlyphs" font-weight="bold">E</text><text x="32.2" y="988.0" font-size="46" fill="#f2b84a" stroke="#f2b84a" stroke-width="0.15" textLength="122.5" lengthAdjust="spacingAndGlyphs">In-ice</text><text x="171.6" y="988.0" font-size="46" fill="#f2b84a" stroke="#f2b84a" stroke-width="0.15" textLength="197.2" lengthAdjust="spacingAndGlyphs">Askaryan</text><text x="386.0" y="988.0" font-size="46" fill="#f2b84a" stroke="#f2b84a" stroke-width="0.15" textLength="182.6" lengthAdjust="spacingAndGlyphs">radiation</text><text x="395.4" y="1056.9" font-size="46" fill="#111" stroke="#111" stroke-width="0.7" textLength="241.0" lengthAdjust="spacingAndGlyphs">Phased-VPol</text><text x="655.8" y="1056.9" font-size="46" fill="#111" stroke="#111" stroke-width="0.7" textLength="119.0" lengthAdjust="spacingAndGlyphs">trigger</text><text x="793.8" y="1056.9" font-size="46" fill="#111" stroke="#111" stroke-width="0.7" textLength="92.2" lengthAdjust="spacingAndGlyphs">array</text><text x="953.8" y="1007.1" font-size="46" fill="#111" stroke="#111" stroke-width="0.7" textLength="281.2" lengthAdjust="spacingAndGlyphs">Reconstruction</text><text x="953.8" y="1057.6" font-size="46" fill="#111" stroke="#111" stroke-width="0.7" textLength="93.0" lengthAdjust="spacingAndGlyphs">array</text><text x="1065.0" y="1057.6" font-size="46" fill="#111" stroke="#111" stroke-width="0.7" textLength="161.8" lengthAdjust="spacingAndGlyphs">antennas</text><text x="1123.3" y="504.5" font-size="46" fill="#111" stroke="#111" stroke-width="0.7" textLength="71.7" lengthAdjust="spacingAndGlyphs">150</text><text x="1200.0" y="504.5" font-size="46" fill="#111" stroke="#111" stroke-width="0.7" textLength="35.5" lengthAdjust="spacingAndGlyphs">m</text><text x="1121.0" y="917.0" font-size="46" fill="#111" stroke="#111" stroke-width="0.7" textLength="69.0" lengthAdjust="spacingAndGlyphs">200</text><text x="1200.0" y="917.0" font-size="46" fill="#111" stroke="#111" stroke-width="0.7" textLength="35.5" lengthAdjust="spacingAndGlyphs">m</text>
</svg>
</body></html>
